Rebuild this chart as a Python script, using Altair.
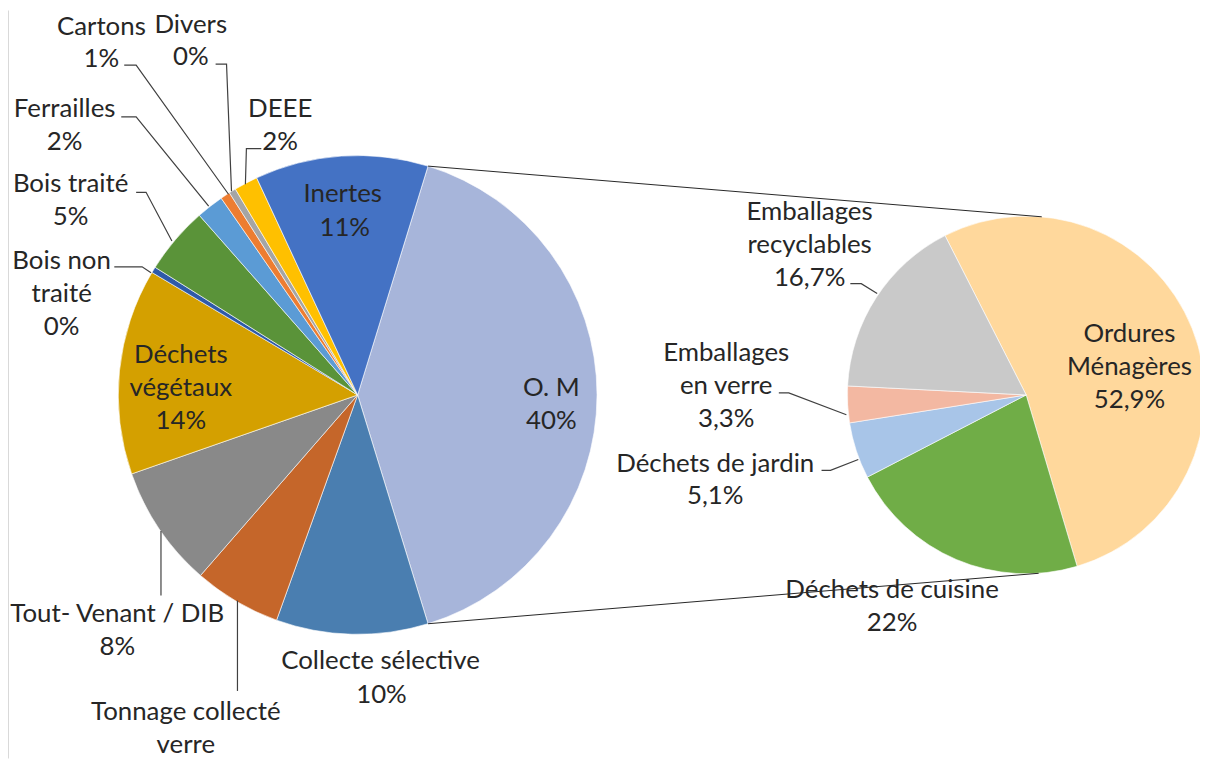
import math
import altair as alt
import pandas as pd

# ---------------- data ----------------
main_cats = ["O. M", "Collecte sélective", "Tonnage collecté verre", "Tout- Venant / DIB",
             "Déchets végétaux", "Bois non traité", "Bois traité", "Ferrailles",
             "Cartons", "Divers", "DEEE", "Inertes"]
main_vals = [40.5, 10.25, 5.9, 8.25, 13.9, 0.4, 4.55, 1.85, 0.65, 0.47, 1.6, 11.68]
main_pct = ["40%", "10%", "", "8%", "14%", "0%", "5%", "2%", "1%", "0%", "2%", "11%"]
main_cols = ["#A7B5DA", "#4A7EB0", "#C5662A", "#898989", "#D4A000", "#2E5AA8",
             "#5A9339", "#5B9BD5", "#ED7D31", "#A5A5A5", "#FFC000", "#4472C4"]

sub_cats = ["Ordures Ménagères", "Déchets de cuisine", "Déchets de jardin",
            "Emballages en verre", "Emballages recyclables"]
sub_vals = [52.9, 22.0, 5.1, 3.3, 16.7]
sub_pct = ["52,9%", "22%", "5,1%", "3,3%", "16,7%"]
sub_cols = ["#FFD89C", "#70AD47", "#A8C5E8", "#F3B8A2", "#C9C9C9"]

# ---------------- layout ----------------
W, H = 1200, 753
OX, OY = 8, 8
C1, R1, ROT1 = (360, 395), 241, 17.1      # main pie centre, radius, start angle (deg)
C2, R2, ROT2 = (1033, 395), 180, -27.0    # second pie
CONN2_ANG = [5.0, 176.0]                  # where connectors meet the second pie (deg)

FONT, FS, TXT = "Lato", 26, "#262626"

# label lines: (text, x, y) in page pixels
label_lines = [
    ("Inertes", 345, 193), ("11%", 347, 227),
    ("O. M", 555, 388), ("40%", 555, 421),
    ("Déchets", 182, 355), ("végétaux", 182, 388), ("14%", 182, 421),
    ("Tout- Venant / DIB", 118, 616), ("8%", 118, 649),
    ("Tonnage collecté", 187, 714), ("verre", 187, 747),
    ("Collecte sélective", 383, 663), ("10%", 384, 697),
    ("Bois non", 62, 260), ("traité", 62, 293), ("0%", 62, 327),
    ("Bois traité", 71, 183), ("5%", 71, 216),
    ("Ferrailles", 65, 107), ("2%", 65, 140),
    ("Cartons", 102, 25), ("1%", 102, 57),
    ("Divers", 192, 23), ("0%", 192, 55),
    ("DEEE", 282, 107), ("2%", 282, 140),
    ("Ordures", 1137, 334), ("Ménagères", 1137, 367), ("52,9%", 1137, 400),
    ("Emballages", 815, 211), ("recyclables", 815, 244), ("16,7%", 815, 277),
    ("Emballages", 731, 353), ("en verre", 731, 386), ("3,3%", 731, 419),
    ("Déchets de jardin", 720, 465), ("5,1%", 720, 497),
    ("Déchets de cuisine", 898, 591), ("22%", 898, 625),
]

leaders = {
    "Cartons": [(125, 63), (137, 63), (230, 193)],
    "Divers": [(217, 62), (228, 62), (233, 190)],
    "DEEE": [(263, 147), (248, 147), (247, 183)],
    "Ferrailles": [(122, 115), (137, 115), (210, 205)],
    "Bois traité": [(137, 191), (147, 191), (173, 240)],
    "Bois non traité": [(115, 266), (143, 266), (152, 272)],
    "Tout-Venant": [(162, 597), (162, 532)],
    "Tonnage": [(239, 693), (239, 602)],
    "Recyclables": [(856, 283), (867, 283), (883, 293)],
    "Verre": [(784, 393), (794, 393), (852, 415)],
    "Jardin": [(827, 471), (836, 471), (864, 460)],
}

# ---------------- build tables ----------------
xs = alt.Scale(domain=[OX, OX + W], range=[0, W], zero=False, nice=False)
ys = alt.Scale(domain=[OY, OY + H], range=[0, H], zero=False, nice=False)

df_main = pd.DataFrame({"cat": main_cats, "val": main_vals, "col": main_cols,
                        "idx": range(len(main_cats))})
df_sub = pd.DataFrame({"cat": sub_cats, "val": sub_vals, "col": sub_cols,
                       "idx": range(len(sub_cats))})


def pie(df, centre, radius, rot_deg):
    a0 = math.radians(rot_deg)
    total = float(df["val"].sum())
    return alt.Chart(df).mark_arc(radius=radius, stroke="white", strokeWidth=0.6).encode(
        x=alt.value(centre[0] - OX),
        y=alt.value(centre[1] - OY),
        theta=alt.Theta("val:Q", stack=True,
                        scale=alt.Scale(domain=[0, total], range=[a0, a0 + 2 * math.pi])),
        color=alt.Color("col:N", scale=None, legend=None),
        order=alt.Order("idx:Q"),
    )


# connectors between the O.M slice edges and the second pie
om_start = math.radians(ROT1)
om_end = om_start + main_vals[0] / sum(main_vals) * 2 * math.pi
conn_rows = []
for k, (a1, a2) in enumerate([(om_start, math.radians(CONN2_ANG[0])),
                              (om_end, math.radians(CONN2_ANG[1]))]):
    p1 = (C1[0] + R1 * math.sin(a1), C1[1] - R1 * math.cos(a1))
    p2 = (C2[0] + R2 * math.sin(a2), C2[1] - R2 * math.cos(a2))
    conn_rows += [{"id": k, "seq": 0, "x": p1[0], "y": p1[1]},
                  {"id": k, "seq": 1, "x": p2[0], "y": p2[1]}]
df_conn = pd.DataFrame(conn_rows)

lead_rows = []
for name, pts in leaders.items():
    for s, (x, y) in enumerate(pts):
        lead_rows.append({"id": name, "seq": s, "x": x, "y": y})
df_lead = pd.DataFrame(lead_rows)

df_text = pd.DataFrame(label_lines, columns=["text", "x", "y"])

conn = alt.Chart(df_conn).mark_line(color="#262626", strokeWidth=1).encode(
    x=alt.X("x:Q", scale=xs, axis=None), y=alt.Y("y:Q", scale=ys, axis=None),
    detail="id:N", order="seq:Q")

lead = alt.Chart(df_lead).mark_line(color="#404040", strokeWidth=1.2).encode(
    x=alt.X("x:Q", scale=xs, axis=None), y=alt.Y("y:Q", scale=ys, axis=None),
    detail="id:N", order="seq:Q")

text = alt.Chart(df_text).mark_text(font=FONT, fontSize=FS, color=TXT,
                                    align="center", baseline="middle").encode(
    x=alt.X("x:Q", scale=xs, axis=None), y=alt.Y("y:Q", scale=ys, axis=None),
    text="text:N")

border = alt.Chart(pd.DataFrame({"v": [0]})).mark_rule(color="#D9D9D9", strokeWidth=1).encode(
    x=alt.value(0.5), y=alt.value(0), y2=alt.value(H))

chart = alt.layer(
    pie(df_main, C1, R1, ROT1),
    pie(df_sub, C2, R2, ROT2),
    lead, text, conn, border,
).resolve_scale(theta="independent").properties(
    width=W, height=H, padding=0, autosize=alt.AutoSizeParams(type="none")
).configure_view(stroke=None)

chart.save("out.html", embed_options={"renderer": "svg", "actions": False})
